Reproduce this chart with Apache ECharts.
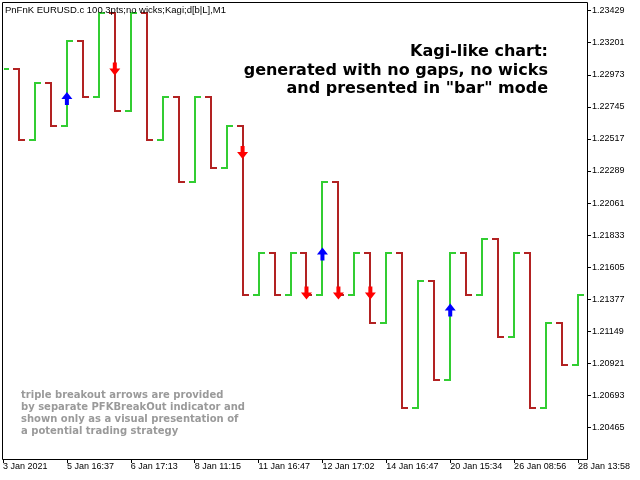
<!DOCTYPE html>
<html>
<head>
<meta charset="utf-8">
<script src="https://cdn.jsdelivr.net/npm/echarts@6/dist/echarts.min.js"></script>
</head>
<body style="margin:0">
<div id="chart" style="width:640px;height:480px"></div>
<script>
// kagi "bar" mode: each bar opens at the previous close
var firstOpen = 1.22712;
var barClose = [1.23013, 1.22511, 1.22912, 1.22612, 1.23213, 1.22812, 1.23414, 1.22712,
                1.23414, 1.22511, 1.22812, 1.22210, 1.22812, 1.22311, 1.22612, 1.21408,
                1.21709, 1.21408, 1.21709, 1.21408, 1.22210, 1.21408, 1.21709, 1.21207,
                1.21709, 1.20606, 1.21508, 1.20806, 1.21709, 1.21408, 1.21809, 1.21107,
                1.21709, 1.20606, 1.21207, 1.20907, 1.21408];

var timeTicks = [0, 4, 8, 12, 16, 20, 24, 28, 32, 36];
var timeLabels = ['3 Jan 2021', '5 Jan 16:37', '6 Jan 17:13', '8 Jan 11:15', '11 Jan 16:47',
                  '12 Jan 17:02', '14 Jan 16:47', '20 Jan 15:34', '26 Jan 08:56', '28 Jan 13:58'];
var priceTicks = [1.20465, 1.20693, 1.20921, 1.21149, 1.21377, 1.21605, 1.21833,
                  1.22061, 1.22289, 1.22517, 1.22745, 1.22973, 1.23201, 1.23429];

// breakout arrows [bar index, price]
var arrowUp = [[4, 1.22804], [20, 1.21699], [28, 1.21301]];
var arrowDown = [[7, 1.23014], [15, 1.22421], [19, 1.21422], [21, 1.21422], [23, 1.21422]];

var kagiBars = barClose.map(function (c, i) {
    var o = i === 0 ? firstOpen : barClose[i - 1];
    return [i, o, c];
});

function renderKagi(params, api) {
    var i = api.value(0);
    var o = api.coord([i, api.value(1)]);
    var c = api.coord([i, api.value(2)]);
    var x = Math.round(o[0]);
    var y1 = Math.round(o[1]);
    var y2 = Math.round(c[1]);
    var up = api.value(2) > api.value(1);
    var cs = params.coordSys;
    return {
        type: 'polyline',
        shape: { points: [[x - 6, y1], [x, y1], [x, y2], [x + 6, y2]] },
        clipPath: { type: 'rect', shape: { x: cs.x + 1, y: cs.y, width: cs.width, height: cs.height } },
        style: { stroke: up ? '#32cd32' : '#b22222', lineWidth: 2, fill: null, lineJoin: 'miter' }
    };
}

var chart = echarts.init(document.getElementById('chart'));
var axisFont = { fontFamily: 'Liberation Sans', fontSize: 9, color: '#000' };

chart.setOption({
    animation: false,
    backgroundColor: '#fff',
    grid: { left: 2, top: 2, right: 53, bottom: 21 },
    xAxis: {
        type: 'value',
        min: 0,
        max: 36.5625,
        axisLine: { show: false, onZero: false },
        splitLine: { show: false },
        axisTick: { show: true, length: 4, lineStyle: { color: '#000' }, customValues: timeTicks },
        axisLabel: Object.assign({
            customValues: timeTicks,
            align: 'left',
            margin: 3,
            formatter: function (v) { return timeLabels[Math.round(v / 4)]; }
        }, axisFont)
    },
    yAxis: {
        type: 'value',
        position: 'right',
        min: 1.202418,
        max: 1.234903,
        axisLine: { show: false, onZero: false },
        splitLine: { show: false },
        axisTick: { show: true, length: 4, lineStyle: { color: '#000' }, customValues: priceTicks },
        axisLabel: Object.assign({
            customValues: priceTicks,
            margin: 5,
            formatter: function (v) { return v.toFixed(5); }
        }, axisFont)
    },
    series: [
        {
            type: 'custom',
            renderItem: renderKagi,
            data: kagiBars,
            encode: { x: 0, y: [1, 2] },
            z: 2
        },
        {
            type: 'scatter',
            data: arrowUp,
            symbol: 'path://M5.5,0 L11,7 L7.5,7 L7.5,13 L3.5,13 L3.5,7 L0,7 Z',
            symbolSize: [11, 13],
            itemStyle: { color: '#0000ff', opacity: 1 },
            z: 3
        },
        {
            type: 'scatter',
            data: arrowDown,
            symbol: 'path://M3.5,0 L7.5,0 L7.5,6 L11,6 L5.5,13 L0,6 L3.5,6 Z',
            symbolSize: [11, 13],
            itemStyle: { color: '#ff0000', opacity: 1 },
            z: 3
        }
    ],
    graphic: [
        {
            type: 'rect',
            z: 100,
            silent: true,
            shape: { x: 2.5, y: 2.5, width: 585, height: 457 },
            style: { fill: null, stroke: '#000', lineWidth: 1 }
        },
        {
            type: 'text',
            z: 100,
            left: 5,
            top: 5,
            style: {
                text: 'PnFnK EURUSD.c 100.3pts;no wicks;Kagi;d[b|L],M1',
                font: '9.5px "Liberation Sans"',
                fill: '#000'
            }
        },
        {
            type: 'text',
            z: 100,
            x: 548,
            y: 43,
            style: {
                text: 'Kagi-like chart:\ngenerated with no gaps, no wicks\nand presented in "bar" mode',
                font: 'bold 16px "DejaVu Sans"',
                lineHeight: 18.5,
                align: 'right',
                verticalAlign: 'top',
                fill: '#000'
            }
        },
        {
            type: 'text',
            z: 100,
            x: 21,
            y: 389,
            style: {
                text: 'triple breakout arrows are provided\nby separate PFKBreakOut indicator and\nshown only as a visual presentation of\na potential trading strategy',
                font: 'bold 10px "DejaVu Sans"',
                lineHeight: 12,
                align: 'left',
                verticalAlign: 'top',
                fill: '#9a9a9a'
            }
        }
    ]
});
</script>
</body>
</html>
